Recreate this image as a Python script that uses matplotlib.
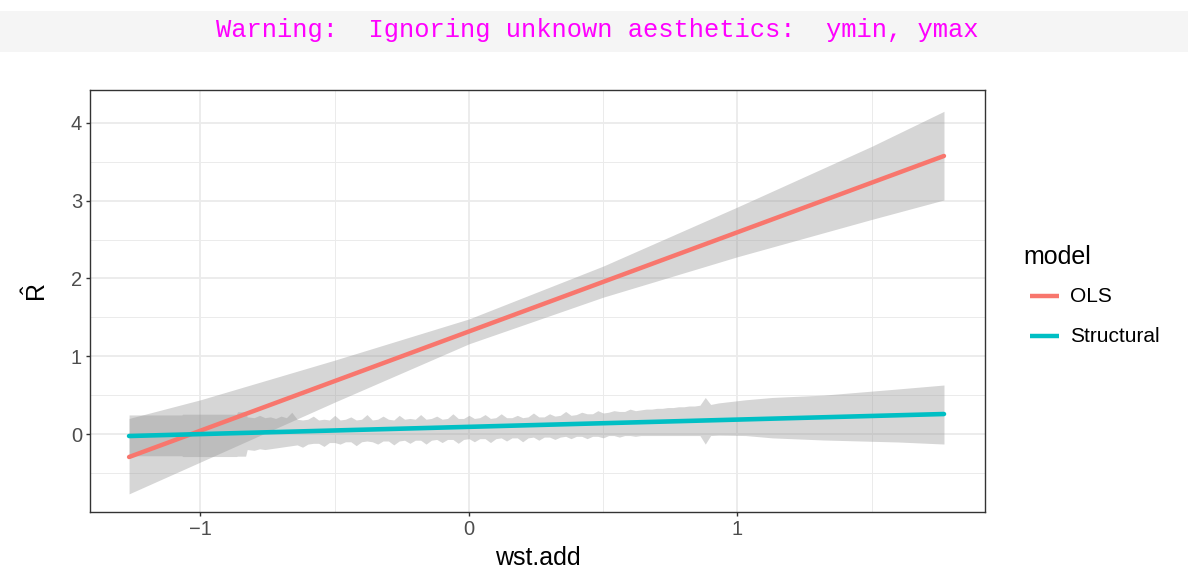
import matplotlib
matplotlib.use("Agg")
import matplotlib.pyplot as plt
from matplotlib.lines import Line2D
from matplotlib.patches import Rectangle

plt.rcParams['font.family'] = ['Liberation Sans', 'DejaVu Sans']
plt.rcParams['mathtext.fontset'] = 'custom'
plt.rcParams['mathtext.rm'] = 'Liberation Sans'
plt.rcParams['mathtext.it'] = 'Liberation Sans:italic'

# ---------------- data ----------------
models = ["OLS", "Structural"]
colors = ["#F8766D", "#00BFC4"]

ols_x = [-1.266, -1.0, -0.5, 0.0, 0.5, 1.0, 1.5, 1.769]
ols_fit = [-0.296, 0.043, 0.681, 1.319, 1.957, 2.595, 3.233, 3.576]
ols_upper = [0.20, 0.44, 0.95, 1.48, 2.16, 2.92, 3.70, 4.15]
ols_lower = [-0.77, -0.36, 0.41, 1.16, 1.76, 2.28, 2.76, 3.01]

str_line_x = [-1.266, 1.769]
str_line_y = [-0.026, 0.257]

# Structural confidence band
str_x_left = [-1.266, -1.070, -1.066, -0.866, -0.862, -0.832]
str_upper_left = [0.245, 0.245, 0.255, 0.255, 0.285, 0.285]
str_lower_left = [-0.280, -0.280, -0.290, -0.290, -0.285, -0.285]

str_x_mid = [-0.826, -0.80, -0.78, -0.76, -0.74, -0.72, -0.70, -0.68, -0.66, -0.64,
             -0.62, -0.60, -0.58, -0.56, -0.54, -0.52, -0.50, -0.48, -0.46, -0.44,
             -0.42, -0.40, -0.38, -0.36, -0.34, -0.32, -0.30, -0.28, -0.26, -0.24,
             -0.22, -0.20, -0.18, -0.16, -0.14, -0.12, -0.10, -0.08, -0.06, -0.04,
             -0.02, 0.00, 0.02, 0.04, 0.06, 0.08, 0.10, 0.12, 0.14, 0.16,
             0.18, 0.20, 0.22, 0.24, 0.26, 0.28, 0.30, 0.32, 0.34, 0.36,
             0.38, 0.40, 0.42, 0.44, 0.46, 0.48, 0.50, 0.52, 0.54, 0.56,
             0.58, 0.60, 0.62, 0.64, 0.66, 0.68, 0.70, 0.72, 0.74, 0.76,
             0.78, 0.80, 0.82, 0.84, 0.86, 0.88, 0.90]
str_upper_mid = [0.22, 0.21, 0.24, 0.21, 0.22, 0.20, 0.23, 0.21, 0.28, 0.19,
                 0.18, 0.19, 0.23, 0.18, 0.19, 0.18, 0.24, 0.18, 0.19, 0.22,
                 0.18, 0.19, 0.25, 0.18, 0.19, 0.23, 0.19, 0.18, 0.24, 0.19,
                 0.20, 0.19, 0.25, 0.19, 0.20, 0.23, 0.19, 0.20, 0.26, 0.20,
                 0.20, 0.24, 0.20, 0.21, 0.25, 0.20, 0.21, 0.26, 0.21, 0.21,
                 0.24, 0.21, 0.22, 0.27, 0.22, 0.22, 0.26, 0.23, 0.24, 0.29,
                 0.24, 0.25, 0.28, 0.26, 0.26, 0.30, 0.27, 0.28, 0.30, 0.29,
                 0.29, 0.32, 0.30, 0.31, 0.32, 0.32, 0.33, 0.33, 0.34, 0.34,
                 0.35, 0.35, 0.36, 0.36, 0.37, 0.47, 0.38]
str_lower_mid = [-0.20, -0.21, -0.19, -0.20, -0.19, -0.18, -0.17, -0.16, -0.15, -0.14,
                 -0.17, -0.13, -0.12, -0.12, -0.16, -0.11, -0.11, -0.13, -0.10, -0.10,
                 -0.15, -0.10, -0.09, -0.10, -0.13, -0.09, -0.09, -0.14, -0.09, -0.08,
                 -0.12, -0.08, -0.08, -0.13, -0.08, -0.07, -0.11, -0.07, -0.07, -0.12,
                 -0.07, -0.06, -0.10, -0.06, -0.06, -0.11, -0.06, -0.05, -0.09, -0.05,
                 -0.05, -0.10, -0.05, -0.04, -0.08, -0.04, -0.04, -0.07, -0.04, -0.03,
                 -0.06, -0.03, -0.03, -0.06, -0.03, -0.03, -0.05, -0.02, -0.02, -0.04,
                 -0.02, -0.02, -0.03, -0.02, -0.02, -0.02, -0.02, -0.02, -0.02, -0.02,
                 -0.02, -0.02, -0.02, -0.02, -0.02, -0.13, -0.02]

str_x_right = [0.93, 1.03, 1.13, 1.32, 1.60, 1.769]
str_upper_right = [0.40, 0.44, 0.47, 0.50, 0.58, 0.63]
str_lower_right = [-0.015, -0.02, -0.05, -0.077, -0.103, -0.129]

x_ticks = [-1, 0, 1]
x_tick_labels = ["\u22121", "0", "1"]
y_ticks = [0, 1, 2, 3, 4]
x_label = "wst.add"
y_label = r"$\hat{\mathrm{R}}$"
legend_title = "model"
warning_text = "Warning:  Ignoring unknown aesthetics:  ymin, ymax"

# ---------------- figure ----------------
W, H = 1188, 569
fig = plt.figure(figsize=(W / 100, H / 100), dpi=100)


def fx(px):
    return px / W


def fy(py):
    return 1 - py / H


# warning banner
fig.add_artist(Rectangle((0, fy(52)), 1, (52 - 11) / H, transform=fig.transFigure,
                         facecolor="#F5F5F5", edgecolor="none"))
fig.text(fx(597), fy(30), warning_text, family="Liberation Mono", fontsize=18.4,
         color="#FF00FF", ha="center", va="center")

ax = fig.add_axes([fx(90), fy(512), (985 - 90) / W, (512 - 90) / H])
ax.set_xlim(-1.4115, 1.9218)
ax.set_ylim(-1.0032, 4.4244)

# grid
ax.set_xticks(x_ticks)
ax.set_xticklabels(x_tick_labels)
ax.set_yticks(y_ticks)
ax.set_xticks([-0.5, 0.5, 1.5], minor=True)
ax.set_yticks([-0.5, 0.5, 1.5, 2.5, 3.5], minor=True)
ax.grid(True, which="major", color="#EBEBEB", linewidth=1.3)
ax.grid(True, which="minor", color="#EBEBEB", linewidth=0.7)
ax.set_axisbelow(True)
ax.tick_params(which="minor", length=0)
ax.tick_params(which="major", length=3.2, width=1.0, color="#333333",
               labelcolor="#4D4D4D", labelsize=14.5, pad=2.5)
for s in ax.spines.values():
    s.set_color("#333333")
    s.set_linewidth(1.0)

str_x = str_x_left + str_x_mid + str_x_right
str_upper = str_upper_left + str_upper_mid + str_upper_right
str_lower = str_lower_left + str_lower_mid + str_lower_right

# OLS
ax.fill_between(ols_x, ols_lower, ols_upper, color="#999999", alpha=0.4, linewidth=0)
ax.plot(ols_x, ols_fit, color=colors[0], linewidth=3.2, solid_capstyle="round")
# Structural
ax.fill_between(str_x, str_lower, str_upper, color="#999999", alpha=0.4, linewidth=0)
ax.plot(str_line_x, str_line_y, color=colors[1], linewidth=3.3, solid_capstyle="round")

ax.set_xlabel(x_label, fontsize=18, color="black")
ax.set_ylabel(y_label, fontsize=18, color="black")
ax.xaxis.set_label_coords(0.5, -0.08)
ax.yaxis.set_label_coords(-0.044, 0.52)

# legend
fig.text(fx(1023), fy(257), legend_title, fontsize=18, ha="left", va="center")
for i, (m, c) in enumerate(zip(models, colors)):
    yy = 296 + 40 * i
    fig.add_artist(Line2D([fx(1030), fx(1059)], [fy(yy), fy(yy)], transform=fig.transFigure,
                          color=c, linewidth=3.2, solid_capstyle="butt"))
    fig.text(fx(1070), fy(yy), m, fontsize=15, ha="left", va="center")

fig.savefig("out.png", dpi=100)
